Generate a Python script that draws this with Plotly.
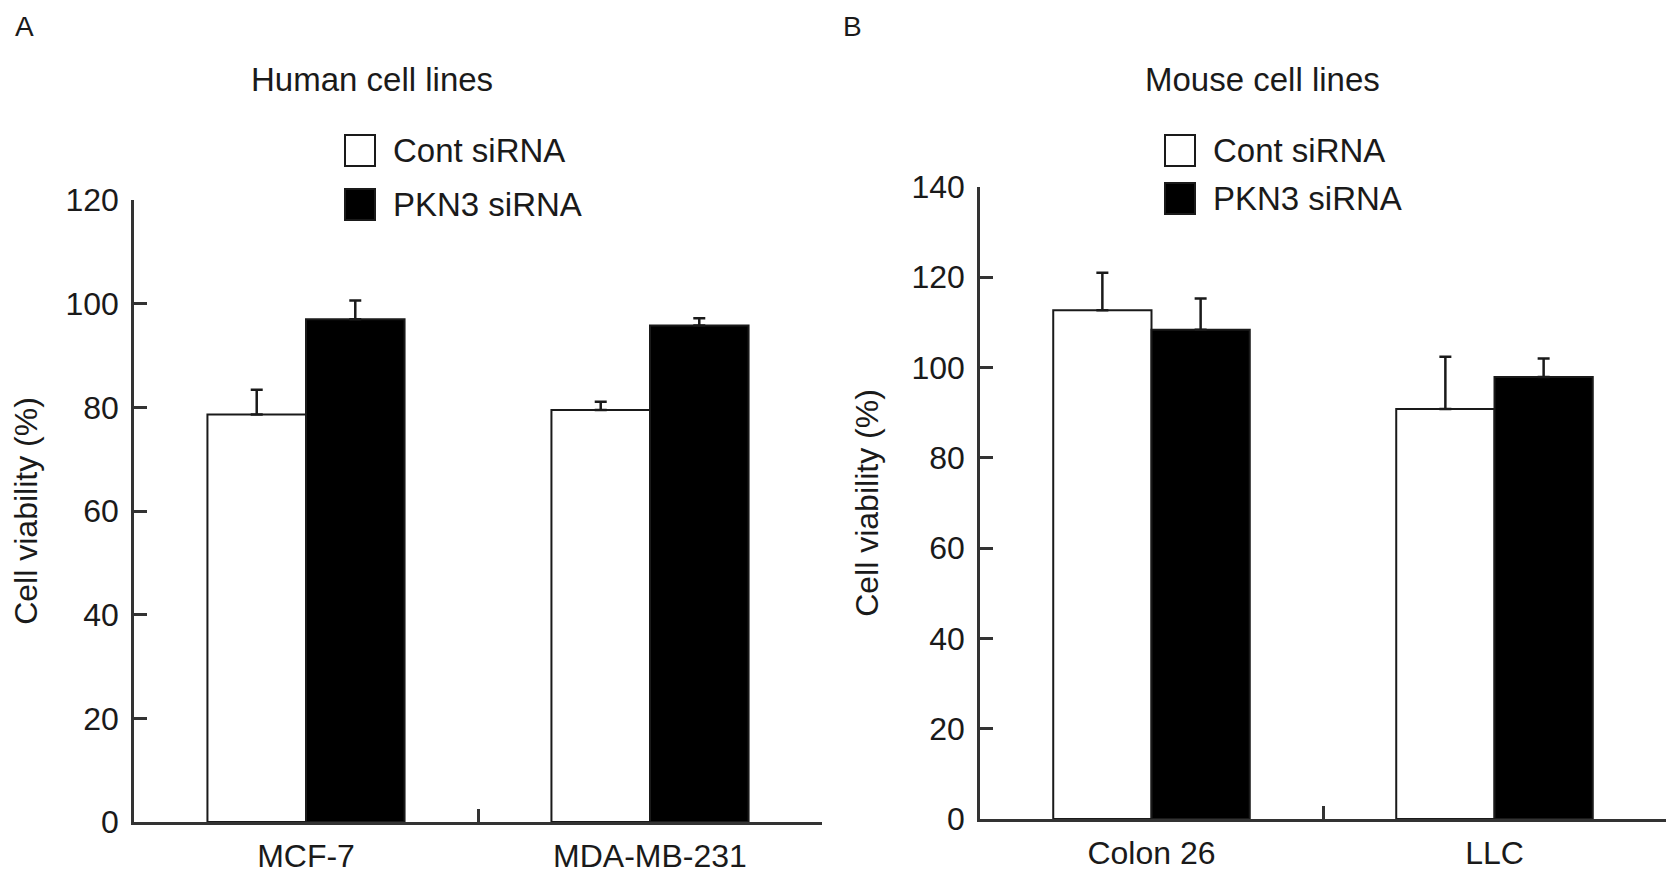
import plotly.graph_objects as go
from plotly.subplots import make_subplots

# Data
human_lines = ["MCF-7", "MDA-MB-231"]
human_cont = [78.6, 79.5]
human_cont_err = [4.8, 1.6]
human_pkn3 = [97.0, 95.8]
human_pkn3_err = [3.6, 1.4]

mouse_lines = ["Colon 26", "LLC"]
mouse_cont = [112.7, 90.8]
mouse_cont_err = [8.3, 11.6]
mouse_pkn3 = [108.4, 97.9]
mouse_pkn3_err = [6.9, 4.1]

series_names = ["Cont siRNA", "PKN3 siRNA"]
FONT = "Arial, Liberation Sans, sans-serif"
INK = "#1a1a1a"
AXIS = "#333333"
W, H = 1680, 875
PAGE_PAD = 8  # the page body adds 8px around the figure


def px(x):
    return (x - PAGE_PAD) / W


def py(y):
    return 1 - (y - PAGE_PAD) / H


fig = make_subplots(rows=1, cols=2)


def add_bars(col, cats, cont, cont_err, pkn3, pkn3_err):
    for name, vals, errs, fill in [(series_names[0], cont, cont_err, "white"),
                                   (series_names[1], pkn3, pkn3_err, "black")]:
        fig.add_trace(go.Bar(
            x=cats, y=vals, name=name, showlegend=False,
            marker=dict(color=fill, line=dict(color=INK, width=2)),
            error_y=dict(type="data", array=errs, arrayminus=[0] * len(errs),
                         symmetric=False, color=INK, thickness=2.5, width=6),
        ), row=1, col=col)


add_bars(1, human_lines, human_cont, human_cont_err, human_pkn3, human_pkn3_err)
add_bars(2, mouse_lines, mouse_cont, mouse_cont_err, mouse_pkn3, mouse_pkn3_err)

axis_common = dict(showline=True, linecolor=AXIS, linewidth=2.5, ticks="inside",
                   tickcolor=AXIS, tickwidth=2.5, ticklen=13, showgrid=False,
                   zeroline=False, automargin=False,
                   tickfont=dict(size=32, color=INK, family=FONT))

fig.update_xaxes(**axis_common, tickson="boundaries", range=[-0.5, 1.5],
                 ticklabelstandoff=4)
fig.update_xaxes(domain=[px(134), px(822)], row=1, col=1)
fig.update_xaxes(domain=[px(980), px(1666)], row=1, col=2)

fig.update_yaxes(**axis_common, dtick=20, ticklabelstandoff=6,
                 title=dict(text="Cell viability (%)", standoff=24,
                            font=dict(size=32, color=INK, family=FONT)))
fig.update_yaxes(range=[0, 120], domain=[py(822), py(200)], row=1, col=1)
fig.update_yaxes(range=[0, 140], domain=[py(819), py(187)], row=1, col=2)

# Panel labels, titles and hand-drawn legends
texts = [
    ("A", 24, 26, 28),
    ("B", 852, 26, 28),
    ("Human cell lines", 372, 79, 33),
    ("Mouse cell lines", 1262, 79, 33),
]
for txt, x, y, size in texts:
    fig.add_annotation(x=px(x), y=py(y), xref="paper", yref="paper",
                       text=txt, showarrow=False, xanchor="center", yanchor="middle",
                       font=dict(size=size, color=INK, family=FONT))

legend_spots = [(345, [135, 189]), (1165, [135, 183])]
for lx, rows in legend_spots:
    for (top, name, fill) in zip(rows, series_names, ["white", "black"]):
        fig.add_shape(type="rect", xref="paper", yref="paper",
                      x0=px(lx), x1=px(lx + 30), y0=py(top + 31), y1=py(top),
                      fillcolor=fill, line=dict(color=INK, width=2))
        fig.add_annotation(x=px(lx + 46), y=py(top + 15.5),
                           xref="paper", yref="paper", text=name, showarrow=False,
                           xanchor="left", yanchor="middle",
                           font=dict(size=33, color=INK, family=FONT))

fig.update_layout(
    width=W, height=H,
    margin=dict(l=0, r=0, t=0, b=0),
    barmode="group", bargap=0.427, bargroupgap=0,
    plot_bgcolor="white", paper_bgcolor="white",
    font=dict(family=FONT, color=INK),
)

fig.write_html("out.html")
